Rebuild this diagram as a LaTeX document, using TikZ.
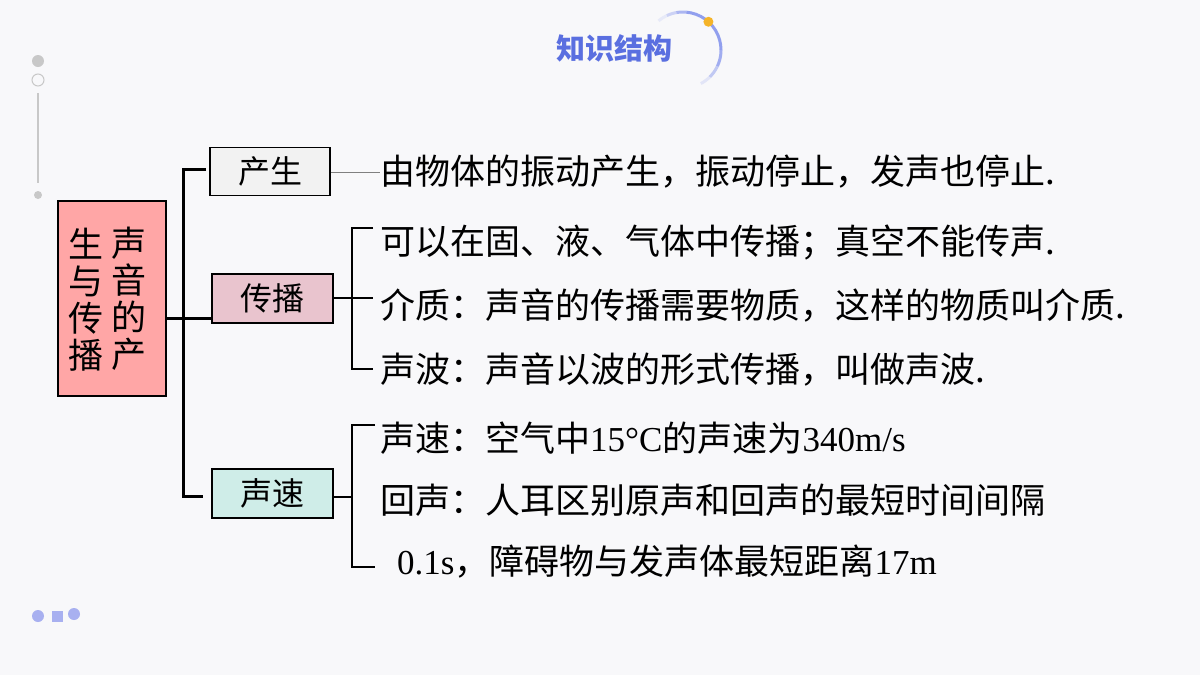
\documentclass[tikz,border=0pt]{standalone}
\usepackage{fontspec}
\setmainfont{Noto Sans CJK SC}
\newfontfamily\tm{Liberation Serif}
\definecolor{bgc}{RGB}{248,248,250}
\definecolor{rootfill}{RGB}{255,166,166}
\definecolor{chanfill}{RGB}{242,242,242}
\definecolor{chuanfill}{RGB}{233,196,206}
\definecolor{sufill}{RGB}{207,237,232}
\definecolor{titleblue}{RGB}{90,111,224}
\definecolor{arcblue}{RGB}{140,155,238}
\definecolor{dotorange}{RGB}{245,180,40}
\definecolor{decogray}{RGB}{200,200,200}
\definecolor{decoblue}{RGB}{168,176,240}
\begin{document}
\begin{tikzpicture}[x=1pt,y=-1pt,
  box/.style={draw=black,line width=1.8pt,inner sep=0pt,minimum width=120pt,minimum height=48pt,font=\fontsize{32}{32}\selectfont},
  txt/.style={anchor=west,inner sep=0pt,font=\fontsize{35}{35}\selectfont},
  col/.style={inner sep=0pt,align=center,font=\fontsize{35}{37}\selectfont},
  conn/.style={line width=3pt},
  brk/.style={line width=2.4pt},
  thin/.style={line width=1pt,draw=gray}]
\fill[bgc] (0,0) rectangle (1200,675);
\useasboundingbox (0,0) rectangle (1200,675);

% title and arc
\node[inner sep=0pt,font=\fontsize{29}{29}\selectfont\bfseries,text=titleblue] (title) at (614,48) {知识结构};
\foreach \a/\b/\o in {130/115/0.15,115/100/0.4,100/85/0.7,85/0/0.95,0/-25/0.8,-25/-45/0.5,-45/-62/0.2}{
  \draw[arcblue,line width=3pt,opacity=\o] plot[domain=\a:\b,samples=12] ({683+38*cos(\x)},{50-38*sin(\x)});
}
\fill[dotorange] ({683+38*cos(48)},{50-38*sin(48)}) circle[radius=5pt];

% left decorations
\fill[decogray] (38,61) circle[radius=6pt];
\draw[decogray,line width=1pt] (38,80) circle[radius=6pt];
\draw[decogray,line width=1.2pt] (38,93) -- (38,183);
\fill[decogray] (38,195) circle[radius=4pt];
\fill[decoblue] (38,616) circle[radius=6pt];
\fill[decoblue] (52,611) rectangle (63,622);
\fill[decoblue] (74,614) circle[radius=6pt];

% root
\node[draw=black,line width=1.8pt,fill=rootfill,minimum width=108pt,minimum height=195pt,inner sep=0pt] (root) at (112,298.5) {};
\node[col] (rc) at (129,299) {声\\音\\的\\产};
\node[col] (lc) at (86,300) {生\\与\\传\\播};

% branch boxes
\node[box,fill=chanfill,minimum width=120pt,minimum height=48pt] (chan) at (270,171.5) {产生};
\node[box,fill=chuanfill,minimum width=121pt,minimum height=49pt] (chuan) at (272.5,298.5) {传播};
\node[box,fill=sufill,minimum width=121pt,minimum height=49pt] (su) at (272.5,493.5) {声速};

% trunk
\coordinate (tt) at (183,169);
\coordinate (tb) at (183,496);
\coordinate (tj) at (183,318);
\draw[conn] (206,169) -- (tt) -- (tb) -- (203,496);
\draw[conn] (root.east |- tj) -- (chuan.west |- tj);

% texts
\node[txt] (t1) at (380,172) {由物体的振动产生，振动停止，发声也停止.};
\node[txt] (t2) at (380,243) {可以在固、液、气体中传播；真空不能传声.};
\node[txt] (t3) at (380,306) {介质：声音的传播需要物质，这样的物质叫介质.};
\node[txt] (t4) at (380,370) {声波：声音以波的形式传播，叫做声波.};
\node[txt] (t5) at (380,438) {声速：空气中{\tm 15°C}的声速为{\tm 340m/s}};
\node[txt] (t6) at (380,500) {回声：人耳区别原声和回声的最短时间间隔};
\node[txt] (t7) at (397,562) {{\tm 0.1s}，障碍物与发声体最短距离{\tm 17m}};

% chan line
\draw[thin] (chan.east |- 0,172) -- (t1.west);

% chuan bracket
\coordinate (b1t) at (352,228);
\coordinate (b1b) at (352,369);
\draw[brk] (373,228) -- (b1t) -- (b1b) -- (373,369);
\draw[brk] (chuan.east |- 0,298) -- (373,298);

% su bracket
\coordinate (b2t) at (352,425);
\coordinate (b2b) at (352,567);
\draw[brk] (375,425) -- (b2t) -- (b2b) -- (375,567);
\draw[brk] (su.east |- 0,497) -- (352,497);
\end{tikzpicture}
\end{document}
